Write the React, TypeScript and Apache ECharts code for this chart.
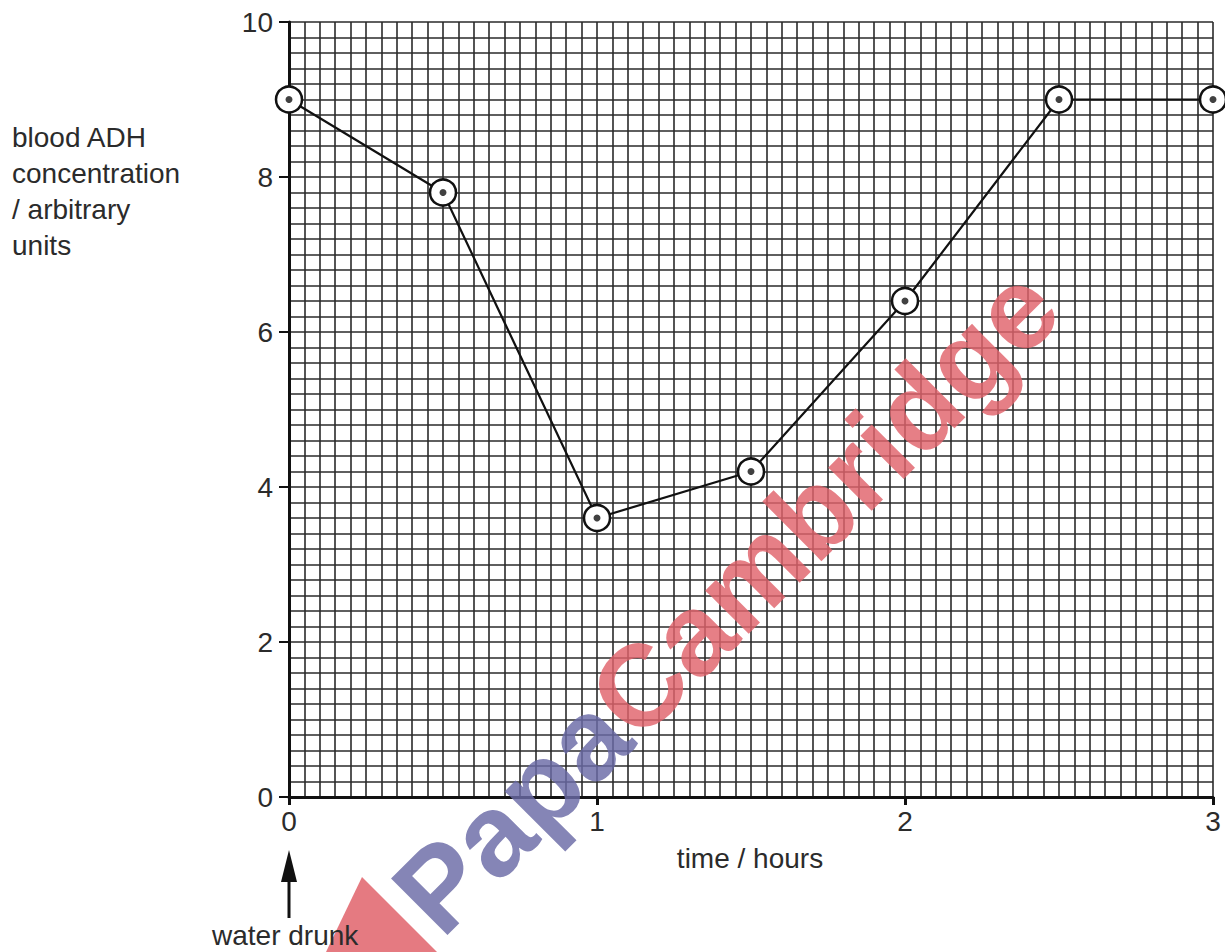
import React, { useEffect, useRef } from "react";
import * as echarts from "echarts";

const times = [0, 0.5, 1, 1.5, 2, 2.5, 3];
const adh = [9, 7.8, 3.6, 4.2, 6.4, 9, 9];
const xTicks = [0, 1, 2, 3];
const yTicks = [0, 2, 4, 6, 8, 10];
const yName = ["blood ADH", "concentration", "/ arbitrary", "units"];
const xName = "time / hours";
const note = "water drunk";
const wmA = "Papa";
const wmB = "Cambridge";

const FONT = "'Liberation Sans', Arial, sans-serif";
const TXT = "#2b2b2b";

export default function App() {
  const ref = useRef<HTMLDivElement>(null);
  useEffect(() => {
    if (!ref.current) return;
    const chart = echarts.init(ref.current, undefined, { renderer: "svg" });
    const pts = times.map((t, i) => [t, adh[i]]);
    const option: any = {
      animation: false,
      backgroundColor: "#ffffff",
      grid: { left: 289, right: 12, top: 22, bottom: 155, containLabel: false },
      xAxis: [
        {
          type: "value", min: 0, max: 3, interval: 0.05,
          axisLine: { show: false }, axisTick: { show: false }, axisLabel: { show: false },
          splitLine: { show: true, lineStyle: { color: "#2a2a2a", width: 1.6 } },
        },
        {
          type: "value", min: 0, max: 3, interval: 1, position: "bottom",
          axisLine: { show: true, onZero: false, lineStyle: { color: "#111", width: 3 } },
          axisTick: { show: true, length: 8, lineStyle: { color: "#111", width: 3 } },
          axisLabel: {
            fontSize: 28, color: TXT, margin: 10, fontFamily: FONT,
            formatter: (v: number) => (xTicks.includes(v) ? String(v) : ""),
          },
          splitLine: { show: false },
        },
      ],
      yAxis: [
        {
          type: "value", min: 0, max: 10, interval: 0.2,
          axisLine: { show: false }, axisTick: { show: false }, axisLabel: { show: false },
          splitLine: { show: true, lineStyle: { color: "#2a2a2a", width: 1.6 } },
        },
        {
          type: "value", min: 0, max: 10, interval: 2, position: "left",
          axisLine: { show: true, onZero: false, lineStyle: { color: "#111", width: 3 } },
          axisTick: { show: true, length: 10, lineStyle: { color: "#111", width: 2 } },
          axisLabel: {
            fontSize: 28, color: TXT, margin: 16, fontFamily: FONT,
            formatter: (v: number) => (yTicks.includes(v) ? String(v) : ""),
          },
          splitLine: { show: false },
        },
      ],
      graphic: [
        {
          type: "text", left: 12, top: 119, z: 10,
          style: { text: yName.join("\n"), font: `28px ${FONT}`, fill: TXT, lineHeight: 36 },
        },
        {
          type: "text", x: 750, y: 858, z: 10,
          style: { text: xName, font: `28px ${FONT}`, fill: TXT, align: "center", verticalAlign: "middle" },
        },
        {
          type: "polygon", z: 1,
          shape: { points: [[362, 877], [326, 952], [437, 952]] },
          style: { fill: "#e0636b", opacity: 0.85 },
        },
        {
          type: "text", x: 212, y: 935, z: 10,
          style: { text: note, font: `28px ${FONT}`, fill: TXT, align: "left", verticalAlign: "middle" },
        },
        {
          type: "line", z: 10,
          shape: { x1: 289, y1: 918, x2: 289, y2: 876 },
          style: { stroke: "#111", lineWidth: 3 },
        },
        {
          type: "polygon", z: 10,
          shape: { points: [[281, 882], [297, 882], [289, 850]] },
          style: { fill: "#111" },
        },
        {
          type: "text", x: 726, y: 600, rotation: Math.PI / 4, z: 1,
          style: {
            text: `{a|${wmA}}{b|${wmB}}`,
            align: "center", verticalAlign: "middle", opacity: 0.82,
            rich: {
              a: { fill: "#6a6aa6", font: `bold 116px ${FONT}` },
              b: { fill: "#e0636b", font: `bold 116px ${FONT}` },
            },
          },
        },
      ],
      series: [
        {
          type: "line", data: pts, xAxisIndex: 0, yAxisIndex: 0, clip: false, z: 5,
          symbol: "circle", symbolSize: 26, showSymbol: true,
          lineStyle: { color: "#111", width: 2.2 },
          itemStyle: { color: "#ffffff", borderColor: "#111", borderWidth: 2.5 },
        },
        {
          type: "scatter", data: pts, xAxisIndex: 0, yAxisIndex: 0, clip: false, z: 6,
          symbol: "circle", symbolSize: 7,
          itemStyle: { color: "#111" },
        },
      ],
    };
    chart.setOption(option);
    return () => chart.dispose();
  }, []);
  return (
    <div
      ref={ref}
      style={{ position: "fixed", left: 0, top: 0, width: 1225, height: 952 }}
    />
  );
}
